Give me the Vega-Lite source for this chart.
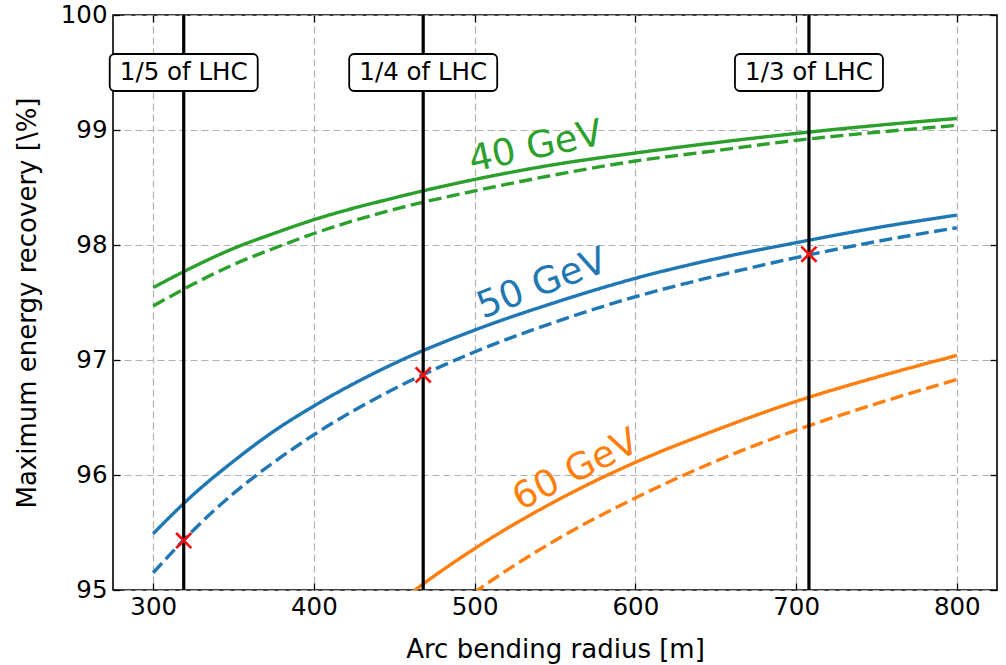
{
  "$schema": "https://vega.github.io/schema/vega-lite/v6.json",
  "width": 884,
  "height": 575,
  "autosize": {"type": "none"},
  "padding": {"left": 113, "top": 15, "right": 9, "bottom": 75},
  "background": "white",
  "config": {
    "view": {"stroke": "black", "strokeWidth": 1.6},
    "font": "DejaVu Sans",
    "axis": {
      "domain": false,
      "tickColor": "black",
      "tickSize": -7,
      "tickWidth": 1.3,
      "labelFont": "DejaVu Sans",
      "labelFontSize": 24.5,
      "labelColor": "black",
      "titleFont": "DejaVu Sans",
      "titleFontSize": 26,
      "titleFontWeight": "normal",
      "titleColor": "black",
      "gridColor": "#b0b0b0",
      "gridDash": [7, 4],
      "gridWidth": 1.2
    }
  },
  "datasets": {
    "curves": [
      {"r": 300, "E": 97.63, "energy": "40 GeV", "kind": "solid"},
      {"r": 325, "E": 97.81, "energy": "40 GeV", "kind": "solid"},
      {"r": 350, "E": 97.97, "energy": "40 GeV", "kind": "solid"},
      {"r": 375, "E": 98.10, "energy": "40 GeV", "kind": "solid"},
      {"r": 400, "E": 98.22, "energy": "40 GeV", "kind": "solid"},
      {"r": 450, "E": 98.41, "energy": "40 GeV", "kind": "solid"},
      {"r": 500, "E": 98.57, "energy": "40 GeV", "kind": "solid"},
      {"r": 550, "E": 98.70, "energy": "40 GeV", "kind": "solid"},
      {"r": 600, "E": 98.80, "energy": "40 GeV", "kind": "solid"},
      {"r": 650, "E": 98.89, "energy": "40 GeV", "kind": "solid"},
      {"r": 700, "E": 98.97, "energy": "40 GeV", "kind": "solid"},
      {"r": 750, "E": 99.04, "energy": "40 GeV", "kind": "solid"},
      {"r": 800, "E": 99.10, "energy": "40 GeV", "kind": "solid"},
      {"r": 300, "E": 97.47, "energy": "40 GeV", "kind": "dashed"},
      {"r": 325, "E": 97.66, "energy": "40 GeV", "kind": "dashed"},
      {"r": 350, "E": 97.83, "energy": "40 GeV", "kind": "dashed"},
      {"r": 375, "E": 97.97, "energy": "40 GeV", "kind": "dashed"},
      {"r": 400, "E": 98.10, "energy": "40 GeV", "kind": "dashed"},
      {"r": 450, "E": 98.31, "energy": "40 GeV", "kind": "dashed"},
      {"r": 500, "E": 98.47, "energy": "40 GeV", "kind": "dashed"},
      {"r": 550, "E": 98.61, "energy": "40 GeV", "kind": "dashed"},
      {"r": 600, "E": 98.73, "energy": "40 GeV", "kind": "dashed"},
      {"r": 650, "E": 98.82, "energy": "40 GeV", "kind": "dashed"},
      {"r": 700, "E": 98.91, "energy": "40 GeV", "kind": "dashed"},
      {"r": 750, "E": 98.98, "energy": "40 GeV", "kind": "dashed"},
      {"r": 800, "E": 99.04, "energy": "40 GeV", "kind": "dashed"},
      {"r": 300, "E": 95.49, "energy": "50 GeV", "kind": "solid"},
      {"r": 325, "E": 95.83, "energy": "50 GeV", "kind": "solid"},
      {"r": 350, "E": 96.12, "energy": "50 GeV", "kind": "solid"},
      {"r": 375, "E": 96.38, "energy": "50 GeV", "kind": "solid"},
      {"r": 400, "E": 96.60, "energy": "50 GeV", "kind": "solid"},
      {"r": 450, "E": 96.97, "energy": "50 GeV", "kind": "solid"},
      {"r": 500, "E": 97.26, "energy": "50 GeV", "kind": "solid"},
      {"r": 550, "E": 97.50, "energy": "50 GeV", "kind": "solid"},
      {"r": 600, "E": 97.71, "energy": "50 GeV", "kind": "solid"},
      {"r": 650, "E": 97.88, "energy": "50 GeV", "kind": "solid"},
      {"r": 700, "E": 98.02, "energy": "50 GeV", "kind": "solid"},
      {"r": 750, "E": 98.15, "energy": "50 GeV", "kind": "solid"},
      {"r": 800, "E": 98.26, "energy": "50 GeV", "kind": "solid"},
      {"r": 300, "E": 95.15, "energy": "50 GeV", "kind": "dashed"},
      {"r": 325, "E": 95.52, "energy": "50 GeV", "kind": "dashed"},
      {"r": 350, "E": 95.84, "energy": "50 GeV", "kind": "dashed"},
      {"r": 375, "E": 96.11, "energy": "50 GeV", "kind": "dashed"},
      {"r": 400, "E": 96.35, "energy": "50 GeV", "kind": "dashed"},
      {"r": 450, "E": 96.75, "energy": "50 GeV", "kind": "dashed"},
      {"r": 500, "E": 97.07, "energy": "50 GeV", "kind": "dashed"},
      {"r": 550, "E": 97.33, "energy": "50 GeV", "kind": "dashed"},
      {"r": 600, "E": 97.55, "energy": "50 GeV", "kind": "dashed"},
      {"r": 650, "E": 97.73, "energy": "50 GeV", "kind": "dashed"},
      {"r": 700, "E": 97.89, "energy": "50 GeV", "kind": "dashed"},
      {"r": 750, "E": 98.03, "energy": "50 GeV", "kind": "dashed"},
      {"r": 800, "E": 98.15, "energy": "50 GeV", "kind": "dashed"},
      {"r": 300, "E": 92.37, "energy": "60 GeV", "kind": "solid"},
      {"r": 325, "E": 92.94, "energy": "60 GeV", "kind": "solid"},
      {"r": 350, "E": 93.43, "energy": "60 GeV", "kind": "solid"},
      {"r": 375, "E": 93.86, "energy": "60 GeV", "kind": "solid"},
      {"r": 400, "E": 94.24, "energy": "60 GeV", "kind": "solid"},
      {"r": 450, "E": 94.86, "energy": "60 GeV", "kind": "solid"},
      {"r": 500, "E": 95.36, "energy": "60 GeV", "kind": "solid"},
      {"r": 550, "E": 95.77, "energy": "60 GeV", "kind": "solid"},
      {"r": 600, "E": 96.11, "energy": "60 GeV", "kind": "solid"},
      {"r": 650, "E": 96.39, "energy": "60 GeV", "kind": "solid"},
      {"r": 700, "E": 96.64, "energy": "60 GeV", "kind": "solid"},
      {"r": 750, "E": 96.85, "energy": "60 GeV", "kind": "solid"},
      {"r": 800, "E": 97.04, "energy": "60 GeV", "kind": "solid"},
      {"r": 300, "E": 91.69, "energy": "60 GeV", "kind": "dashed"},
      {"r": 325, "E": 92.32, "energy": "60 GeV", "kind": "dashed"},
      {"r": 350, "E": 92.86, "energy": "60 GeV", "kind": "dashed"},
      {"r": 375, "E": 93.33, "energy": "60 GeV", "kind": "dashed"},
      {"r": 400, "E": 93.74, "energy": "60 GeV", "kind": "dashed"},
      {"r": 450, "E": 94.43, "energy": "60 GeV", "kind": "dashed"},
      {"r": 500, "E": 94.98, "energy": "60 GeV", "kind": "dashed"},
      {"r": 550, "E": 95.43, "energy": "60 GeV", "kind": "dashed"},
      {"r": 600, "E": 95.80, "energy": "60 GeV", "kind": "dashed"},
      {"r": 650, "E": 96.12, "energy": "60 GeV", "kind": "dashed"},
      {"r": 700, "E": 96.39, "energy": "60 GeV", "kind": "dashed"},
      {"r": 750, "E": 96.62, "energy": "60 GeV", "kind": "dashed"},
      {"r": 800, "E": 96.83, "energy": "60 GeV", "kind": "dashed"}
    ],
    "lhc": [
      {"r": 319, "label": "1/5 of LHC"},
      {"r": 468, "label": "1/4 of LHC"},
      {"r": 708, "label": "1/3 of LHC"}
    ],
    "marks": [
      {"r": 319, "E": 95.43},
      {"r": 468, "E": 96.87},
      {"r": 708, "E": 97.92}
    ]
  },
  "layer": [
    {
      "data": {"name": "curves"},
      "mark": {"type": "line", "strokeWidth": 3.4, "clip": true, "interpolate": "monotone"},
      "encoding": {
        "x": {
          "field": "r", "type": "quantitative",
          "scale": {"domain": [275, 825], "nice": false, "zero": false},
          "axis": {"orient": "bottom", "values": [300, 400, 500, 600, 700, 800], "title": "Arc bending radius [m]", "grid": true, "labelPadding": 12, "titlePadding": 18}
        },
        "y": {
          "field": "E", "type": "quantitative",
          "scale": {"domain": [95, 100], "nice": false, "zero": false},
          "axis": {"orient": "left", "values": [95, 96, 97, 98, 99, 100], "title": "Maximum energy recovery [\\%]", "grid": true, "labelPadding": 13, "titlePadding": 20}
        },
        "color": {
          "field": "energy", "type": "nominal",
          "scale": {"domain": ["40 GeV", "50 GeV", "60 GeV"], "range": ["#2ca02c", "#1f77b4", "#ff7f0e"]},
          "legend": null
        },
        "strokeDash": {
          "field": "kind", "type": "nominal",
          "scale": {"domain": ["solid", "dashed"], "range": [[1, 0], [13, 5.5]]},
          "legend": null
        }
      }
    },
    {
      "data": {"name": "lhc"},
      "mark": {"type": "rule", "color": "black", "strokeWidth": 3.2},
      "encoding": {
        "x": {"field": "r", "type": "quantitative", "axis": null}
      }
    },
    {
      "data": {"name": "lhc"},
      "mark": {"type": "rect", "width": 148, "height": 37, "cornerRadius": 5, "fill": "white", "stroke": "black", "strokeWidth": 1.8},
      "encoding": {
        "x": {"field": "r", "type": "quantitative", "axis": null},
        "y": {"datum": 99.5, "type": "quantitative", "axis": null}
      }
    },
    {
      "data": {"name": "lhc"},
      "mark": {"type": "text", "fontSize": 24.5, "font": "DejaVu Sans", "color": "black", "align": "center", "baseline": "middle"},
      "encoding": {
        "x": {"field": "r", "type": "quantitative", "axis": null},
        "y": {"datum": 99.5, "type": "quantitative", "axis": null},
        "text": {"field": "label"}
      }
    },
    {
      "data": {"name": "marks"},
      "mark": {"type": "point", "shape": "M-1,-1L1,1M-1,1L1,-1", "size": 230, "filled": false, "stroke": "#ee1111", "strokeWidth": 2.7, "opacity": 1},
      "encoding": {
        "x": {"field": "r", "type": "quantitative", "axis": {"orient": "top", "values": [300, 400, 500, 600, 700, 800], "labels": false, "grid": false, "title": null}},
        "y": {"field": "E", "type": "quantitative", "axis": {"orient": "right", "values": [95, 96, 97, 98, 99, 100], "labels": false, "grid": false, "title": null}}
      }
    },
    {
      "data": {"values": [{"r": 538, "E": 98.85, "label": "40 GeV"}]},
      "mark": {"type": "text", "fontSize": 37, "font": "DejaVu Sans", "color": "#2ca02c", "angle": -12, "align": "center", "baseline": "middle"},
      "encoding": {
        "x": {"field": "r", "type": "quantitative", "axis": null},
        "y": {"field": "E", "type": "quantitative", "axis": null},
        "text": {"field": "label"}
      }
    },
    {
      "data": {"values": [{"r": 542, "E": 97.66, "label": "50 GeV"}]},
      "mark": {"type": "text", "fontSize": 37, "font": "DejaVu Sans", "color": "#1f77b4", "angle": -21, "align": "center", "baseline": "middle"},
      "encoding": {
        "x": {"field": "r", "type": "quantitative", "axis": null},
        "y": {"field": "E", "type": "quantitative", "axis": null},
        "text": {"field": "label"}
      }
    },
    {
      "data": {"values": [{"r": 563, "E": 96.04, "label": "60 GeV"}]},
      "mark": {"type": "text", "fontSize": 37, "font": "DejaVu Sans", "color": "#ff7f0e", "angle": -27, "align": "center", "baseline": "middle"},
      "encoding": {
        "x": {"field": "r", "type": "quantitative", "axis": null},
        "y": {"field": "E", "type": "quantitative", "axis": null},
        "text": {"field": "label"}
      }
    }
  ],
  "resolve": {"axis": {"x": "independent", "y": "independent"}}
}
